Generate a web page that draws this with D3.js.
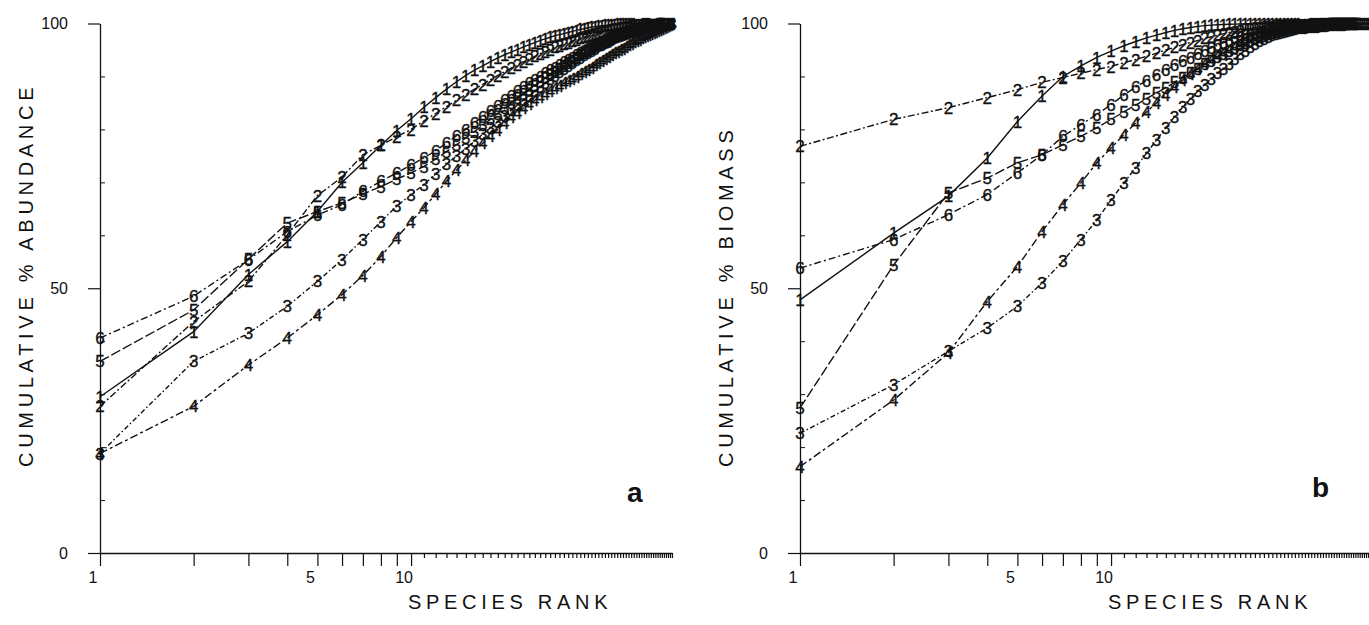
<!DOCTYPE html>
<html>
<head>
<meta charset="utf-8">
<script src="https://cdn.jsdelivr.net/npm/d3@7"></script>
<style>
  body { margin: 0; background: #fff; }
  svg { display: block; }
  text { font-family: 'Liberation Sans', Arial, sans-serif; fill: #111; }
</style>
</head>
<body>
<svg id="chart" width="1369" height="625"></svg>
<script>
// Cumulative % abundance by species rank (rank = index + 1), panel a
var abund1 = [29.5, 41.8, 52.6, 58.8, 64.5, 70.0, 73.7, 77.0, 79.8, 82.0,
  84.2, 86.0, 87.6, 89.0, 90.2, 91.2, 92.0, 92.8, 93.5, 94.1,
  94.6, 95.1, 95.6, 96.0, 96.4, 96.8, 97.1, 97.4, 97.7, 97.9,
  98.1, 98.3, 98.5, 98.7, 98.9, 99.0, 99.2, 99.3, 99.4, 99.5,
  99.6, 99.65, 99.7, 99.75, 99.8, 99.85, 99.9, 99.92, 99.95, 99.97, 99.99, 100]
var abund2 = [27.7, 43.7, 51.3, 60.1, 67.5, 71.0, 75.2, 77.0, 78.6, 80.0,
  81.6, 83.0, 84.3, 85.5, 86.6, 87.6, 88.5, 89.4, 90.2, 90.9,
  91.6, 92.2, 92.8, 93.3, 93.8, 94.3, 94.7, 95.1, 95.5, 95.8,
  96.1, 96.4, 96.7, 97.0, 97.2, 97.4, 97.6, 97.8, 98.0, 98.2,
  98.35, 98.5, 98.65, 98.8, 98.9, 99.0, 99.1, 99.2, 99.3, 99.4,
  99.5, 99.6, 99.7, 99.75, 99.8, 99.9, 99.95, 100]
var abund3 = [18.8, 36.2, 41.5, 46.6, 51.3, 55.4, 59.2, 62.6, 65.5, 67.7,
  69.6, 71.6, 73.4, 75.0, 76.4, 77.8, 79.1, 80.3, 81.5, 82.6,
  83.6, 84.6, 85.5, 86.4, 87.2, 88.0, 88.8, 89.5, 90.2, 90.8,
  91.4, 92.0, 92.6, 93.1, 93.6, 94.1, 94.5, 94.9, 95.3, 95.7,
  96.0, 96.3, 96.6, 96.9, 97.2, 97.4, 97.6, 97.8, 98.0, 98.2,
  98.35, 98.5, 98.65, 98.8, 98.9, 99.0, 99.1, 99.2, 99.3, 99.4,
  99.5, 99.55, 99.6, 99.7, 99.75, 99.8, 99.85, 99.9, 100]
var abund4 = [18.8, 27.7, 35.5, 40.6, 45.0, 48.8, 52.4, 56.0, 59.6, 62.6,
  65.2, 67.8, 70.2, 72.3, 74.2, 75.9, 77.4, 78.8, 80.0, 81.2,
  82.3, 83.2, 84.0, 84.8, 85.5, 86.2, 86.8, 87.3, 87.8, 88.2,
  88.7, 89.2, 89.6, 90.0, 90.5, 90.9, 91.3, 91.7, 92.1, 92.5,
  92.9, 93.3, 93.7, 94.0, 94.4, 94.7, 95.0, 95.3, 95.6, 95.9,
  96.2, 96.5, 96.7, 97.0, 97.2, 97.4, 97.6, 97.8, 98.0, 98.2,
  98.4, 98.6, 98.8, 99.0, 99.2, 99.4, 99.6, 99.8, 100]
var abund5 = [36.2, 45.9, 55.5, 62.3, 64.5, 66.1, 67.8, 69.2, 70.6, 71.8,
  73.0, 74.4, 75.8, 77.1, 78.4, 79.6, 80.8, 81.9, 83.0, 84.0,
  85.0, 85.9, 86.7, 87.5, 88.3, 89.0, 89.7, 90.3, 90.9, 91.5,
  92.0, 92.5, 93.0, 93.5, 94.0, 94.4, 94.8, 95.2, 95.6, 95.9,
  96.2, 96.5, 96.8, 97.1, 97.4, 97.6, 97.8, 98.0, 98.2, 98.4,
  98.6, 98.75, 98.9, 99.0, 99.1, 99.2, 99.3, 99.4, 99.5, 99.6,
  99.7, 99.8, 99.9, 100]
var abund6 = [40.6, 48.5, 55.4, 60.7, 63.8, 65.8, 68.3, 70.2, 71.8, 73.3,
  74.6, 76.0, 77.4, 78.8, 80.0, 81.3, 82.4, 83.5, 84.5, 85.5,
  86.4, 87.2, 88.0, 88.7, 89.4, 90.0, 90.6, 91.2, 91.7, 92.2,
  92.7, 93.2, 93.6, 94.0, 94.4, 94.8, 95.2, 95.6, 95.9, 96.2,
  96.5, 96.8, 97.1, 97.4, 97.6, 97.8, 98.0, 98.2, 98.4, 98.6,
  98.75, 98.9, 99.0, 99.1, 99.2, 99.3, 99.4, 99.5, 99.6, 99.65,
  99.7, 99.8, 99.85, 99.9, 99.95, 100]

// Cumulative % biomass by species rank, panel b
var biom1 = [47.8, 60.4, 67.4, 74.6, 81.5, 86.3, 90.0, 92.0, 93.6, 94.8,
  95.8, 96.6, 97.3, 97.8, 98.3, 98.7, 99.0, 99.25, 99.45, 99.6,
  99.7, 99.75, 99.8, 99.85, 99.88, 99.9, 99.92, 99.94, 99.96, 99.97,
  99.98, 99.98, 99.99, 99.99, 99.99, 100, 100, 100, 100, 100]
var biom2 = [76.8, 81.9, 84.1, 86.0, 87.5, 88.9, 89.8, 90.6, 91.3, 91.9,
  92.6, 93.2, 93.8, 94.4, 95.0, 95.5, 96.0, 96.4, 96.8, 97.2,
  97.5, 97.8, 98.1, 98.3, 98.5, 98.7, 98.9, 99.0, 99.1, 99.2,
  99.3, 99.4, 99.45, 99.5, 99.55, 99.6, 99.65, 99.7, 99.72, 99.75,
  99.78, 99.8, 99.82, 99.85, 99.87, 99.9, 99.92, 99.94, 99.95, 99.96,
  99.97, 99.98, 99.99, 99.99, 100]
var biom3 = [22.6, 31.8, 38.1, 42.5, 46.6, 51.0, 55.1, 59.2, 62.9, 66.7,
  69.9, 72.8, 75.5, 78.0, 80.3, 82.4, 84.2, 85.8, 87.2, 88.5,
  89.6, 90.6, 91.5, 92.4, 93.3, 94.2, 94.9, 95.6, 96.2, 96.7,
  97.1, 97.5, 97.8, 98.1, 98.3, 98.5, 98.7, 98.85, 99.0, 99.1,
  99.2, 99.25, 99.3, 99.35, 99.4, 99.45, 99.5, 99.55, 99.6, 99.65,
  99.7, 99.72, 99.75, 99.78, 99.8, 99.83, 99.86, 99.88, 99.9, 99.91,
  99.92, 99.93, 99.94, 99.95, 99.96, 99.97, 99.98, 99.99, 100]
var biom4 = [16.3, 28.9, 37.8, 47.5, 54.1, 60.7, 65.8, 69.9, 73.7, 76.5,
  79.0, 81.2, 83.3, 85.0, 86.6, 88.0, 89.3, 90.4, 91.4, 92.3,
  93.1, 93.8, 94.5, 95.1, 95.6, 96.1, 96.5, 96.9, 97.3, 97.6,
  97.9, 98.2, 98.4, 98.6, 98.8, 98.95, 99.1, 99.2, 99.3, 99.4,
  99.45, 99.5, 99.55, 99.6, 99.65, 99.7, 99.74, 99.78, 99.81, 99.84,
  99.87, 99.89, 99.91, 99.93, 99.95, 99.96, 99.97, 99.98, 99.99, 100]
var biom5 = [27.4, 54.4, 68.0, 70.8, 73.7, 75.2, 77.1, 78.7, 80.3, 81.9,
  83.3, 84.6, 85.8, 86.9, 87.9, 88.9, 89.8, 90.7, 91.5, 92.3,
  93.0, 93.7, 94.3, 94.9, 95.4, 95.9, 96.3, 96.7, 97.1, 97.4,
  97.7, 98.0, 98.2, 98.4, 98.6, 98.8, 98.95, 99.1, 99.2, 99.3,
  99.4, 99.45, 99.5, 99.55, 99.6, 99.65, 99.7, 99.74, 99.78, 99.81,
  99.84, 99.86, 99.88, 99.9, 99.92, 99.93, 99.94, 99.95, 99.96, 99.97,
  99.99, 100]
var biom6 = [53.8, 59.2, 63.9, 67.7, 71.8, 75.2, 78.7, 80.9, 82.8, 84.7,
  86.5, 88.0, 89.2, 90.3, 91.2, 92.1, 92.9, 93.6, 94.3, 94.9,
  95.4, 95.9, 96.4, 96.8, 97.2, 97.5, 97.8, 98.1, 98.3, 98.5,
  98.7, 98.85, 99.0, 99.1, 99.2, 99.3, 99.4, 99.45, 99.5, 99.55,
  99.6, 99.65, 99.7, 99.74, 99.78, 99.81, 99.84, 99.87, 99.9, 99.92,
  99.94, 99.95, 99.96, 99.97, 99.98, 99.99, 99.99, 100]

var seriesMarkers = ['1', '2', '3', '4', '5', '6']
var xTickLabels = [1, 5, 10]
var yTickLabels = [0, 50, 100]
var yMinorTicks = [10, 20, 30, 40, 60, 70, 80, 90]
var maxRank = 69

// line styles per series (solid, dash-dot, ...)
var dashes = ['none', '7,2.5,2,2.5', '5,2.5,1.5,2.5', '8,3,3,3', '10,3', '7,3,2,3']

var svg = d3.select('#chart')

var yPositionScale = d3
  .scaleLinear()
  .domain([0, 100])
  .range([553, 23.5])

function drawPanel(opts) {
  var g = svg.append('g')
  var xPositionScale = d3
    .scaleLog()
    .domain([1, maxRank])
    .range([opts.left, opts.left + 572])

  // x axis: one tick per rank, long ones up to 10
  var xAxis = d3
    .axisBottom(xPositionScale)
    .tickValues(d3.range(1, maxRank + 1))
    .tickFormat('')
    .tickSizeOuter(0)
  var xg = g
    .append('g')
    .attr('transform', 'translate(0,' + yPositionScale(0) + ')')
    .call(xAxis)
  xg.selectAll('.tick line')
    .attr('y2', d => (d <= 10 ? 13 : 5))
    .attr('stroke', '#111')
    .attr('stroke-width', 1.2)
  xg.select('.domain').attr('stroke', '#111').attr('stroke-width', 1.3)

  g.selectAll('.x-label')
    .data(xTickLabels)
    .enter()
    .append('text')
    .attr('class', 'x-label')
    .text(d => d)
    .attr('x', d => xPositionScale(d) - 7)
    .attr('y', 583)
    .attr('font-size', 16)
    .attr('text-anchor', 'middle')

  // y axis
  var yAxis = d3
    .axisLeft(yPositionScale)
    .tickValues(yTickLabels)
    .tickSize(12)
    .tickSizeOuter(0)
    .tickPadding(20)
  var yg = g
    .append('g')
    .attr('transform', 'translate(' + opts.left + ',0)')
    .call(yAxis)
  yg.selectAll('.tick line').attr('stroke', '#111').attr('stroke-width', 1.2)
  yg.select('.domain').attr('stroke', '#111').attr('stroke-width', 1.3)
  yg.selectAll('.tick text')
    .attr('font-size', 16)
    .attr('font-family', 'Liberation Sans, Arial, sans-serif')
    .attr('fill', '#111')

  var yMinor = d3
    .axisRight(yPositionScale)
    .tickValues(yMinorTicks)
    .tickSize(5)
    .tickFormat('')
    .tickSizeOuter(0)
  var ym = g
    .append('g')
    .attr('transform', 'translate(' + opts.left + ',0)')
    .call(yMinor)
  ym.select('.domain').remove()
  ym.selectAll('.tick line').attr('stroke', '#111')

  // curves
  var line = d3
    .line()
    .x((d, i) => xPositionScale(i + 1))
    .y(d => yPositionScale(d))

  opts.series.forEach(function(values, k) {
    g.append('path')
      .datum(values)
      .attr('d', line)
      .attr('fill', 'none')
      .attr('stroke', '#111')
      .attr('stroke-width', 1.4)
      .attr('stroke-dasharray', dashes[k])

    // plotter-style digit markers on every point
    g.selectAll('.mark-' + k)
      .data(values)
      .enter()
      .append('text')
      .attr('class', 'mark-' + k)
      .text(seriesMarkers[k])
      .attr('x', (d, i) => xPositionScale(i + 1))
      .attr('y', d => yPositionScale(d))
      .attr('dy', '0.36em')
      .attr('font-size', 17)
      .attr('stroke', '#111')
      .attr('stroke-width', 0.35)
      .attr('text-anchor', 'middle')
  })

  // axis titles
  g.append('text')
    .text(opts.yTitle)
    .attr('transform', 'translate(' + (opts.left - 67) + ',467) rotate(-90)')
    .attr('font-size', 20)
    .attr('letter-spacing', '4.7px')

  g.append('text')
    .text('SPECIES RANK')
    .attr('x', opts.left + 308)
    .attr('y', 609)
    .attr('font-size', 20)
    .attr('letter-spacing', '4.7px')

  g.append('text')
    .text(opts.letter)
    .attr('x', opts.letterX)
    .attr('y', opts.letterY)
    .attr('font-size', 28)
    .attr('font-weight', 'bold')
}

drawPanel({
  left: 100,
  series: [abund1, abund2, abund3, abund4, abund5, abund6],
  yTitle: 'CUMULATIVE % ABUNDANCE',
  letter: 'a',
  letterX: 627,
  letterY: 502
})

drawPanel({
  left: 800,
  series: [biom1, biom2, biom3, biom4, biom5, biom6],
  yTitle: 'CUMULATIVE % BIOMASS',
  letter: 'b',
  letterX: 1312,
  letterY: 497
})
</script>
</body>
</html>
